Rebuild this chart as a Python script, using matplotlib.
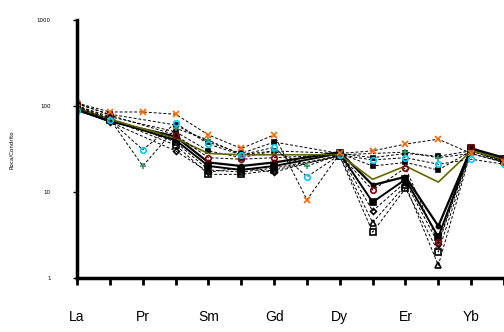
import matplotlib
matplotlib.use("Agg")
import matplotlib.pyplot as plt
import numpy as np

nan = np.nan
elements = ['La', 'Ce', 'Pr', 'Nd', 'Sm', 'Eu', 'Gd', 'Tb', 'Dy', 'Ho', 'Er', 'Tm', 'Yb', 'Lu']
shown_labels = ['La', '', 'Pr', '', 'Sm', '', 'Gd', '', 'Dy', '', 'Er', '', 'Yb', '']

# normalized values (nan = element not analysed)
orange_x = [108, 85, 85, 80, 46, 32, 46, 8.1, 28, 30, 36, 41, 28, 22]
cyan_o = [87, 68, 31, 63, 36, 27, 33, 15, 27, 23.5, 25, 21, 24, 21]
green_p = [95, 70, 20, 55, 40, 27, 30, 20, 27, nan, 29, 25, 28, 22]
darkred_o = [108, 78, nan, 46, 25, 24, 25, nan, 27, 10.5, 19, 2.6, 33, 24]
olive = [95, 70, nan, 42, 28, 27, 27, nan, 27, 14, 20, 13, 30, 24]
blk_tri = [100, 72, nan, 38, 18, 17, 19, nan, 26, 4.4, 12, 1.4, 30, 23]
blk_sq = [98, 70, nan, 35, 16, 16, 18, nan, 26, 3.4, 11, 2.0, 30, 23]
blk_fsq = [95, 68, nan, 40, 20, 18, 20, nan, 28, 7.6, 14, 3.0, 32, 24]
blk_dia = [92, 65, nan, 30, 17, 19, 17, nan, 27, 6.0, 13, 2.5, 31, 22]
blk_dot = [90, 66, nan, 44, 22, 20, 22, nan, 29, 12, 15, 4.0, 32, 25]
blk_up1 = [100, 75, nan, 50, 30, 25, 30, nan, 28, 20, 22, 18, 30, 22]
blk_up2 = [105, 80, nan, 60, 38, 28, 38, nan, 28, 25, 28, 26, 30, 23]

x = np.arange(len(elements))

fig = plt.figure(figsize=(5.04, 3.32), dpi=100)
ax = fig.add_axes([0.153, 0.163, 0.847, 0.777])

dash = (0, (3, 2))

def draw(vals, marker, mfc, mec, ls=dash, color='black', lw=0.7, ms=4):
    v = np.array(vals, dtype=float)
    ok = ~np.isnan(v)
    ax.plot(x[ok], v[ok], linestyle=ls, color=color, lw=lw, marker=marker,
            markerfacecolor=mfc, markeredgecolor=mec, markersize=ms, markeredgewidth=1.2)

draw(blk_up2, 's', 'black', 'black', ms=3)
draw(blk_up1, 's', 'black', 'black', ms=3)
draw(blk_dot, 'o', 'black', 'black', ls='-', lw=1.6, ms=3)
draw(blk_dia, 'D', 'none', 'black', ms=3)
draw(blk_fsq, 's', 'black', 'black', ls='-', lw=1.4, ms=4)
draw(blk_sq, 's', 'none', 'black', ms=4)
draw(blk_tri, '^', 'none', 'black', ms=4)
draw(olive, None, 'none', '#666600', ls='-', color='#666600', lw=1.2)
draw(darkred_o, 'o', 'none', '#800000', ms=4)
draw(green_p, '+', 'none', '#339966', ms=5)
draw(cyan_o, 'o', 'none', '#00ccff', ms=4)
draw(orange_x, 'x', 'none', '#ff6600', ms=4)

ax.set_yscale('log')
ax.set_ylim(1, 1000)
ax.set_xlim(0, 12.94)
ax.set_yticks([1, 10, 100, 1000])
ax.set_yticklabels(['1', '10', '100', '1000'], fontsize=4)
ax.yaxis.set_minor_locator(matplotlib.ticker.NullLocator())
ax.set_xticks(x)
ax.set_xticklabels(shown_labels, fontsize=10, family='Liberation Sans')
ax.tick_params(axis='x', length=5, width=2, pad=18)
ax.tick_params(axis='y', length=3, width=1, pad=16)
fig.text(12 / 504, 0.55, 'Roca/Condrito', rotation=90, fontsize=4,
         ha='center', va='center')

for s in ['top', 'right']:
    ax.spines[s].set_visible(False)
ax.spines['left'].set_linewidth(2.5)
ax.spines['bottom'].set_linewidth(2.5)

fig.savefig('out.png', dpi=100)
